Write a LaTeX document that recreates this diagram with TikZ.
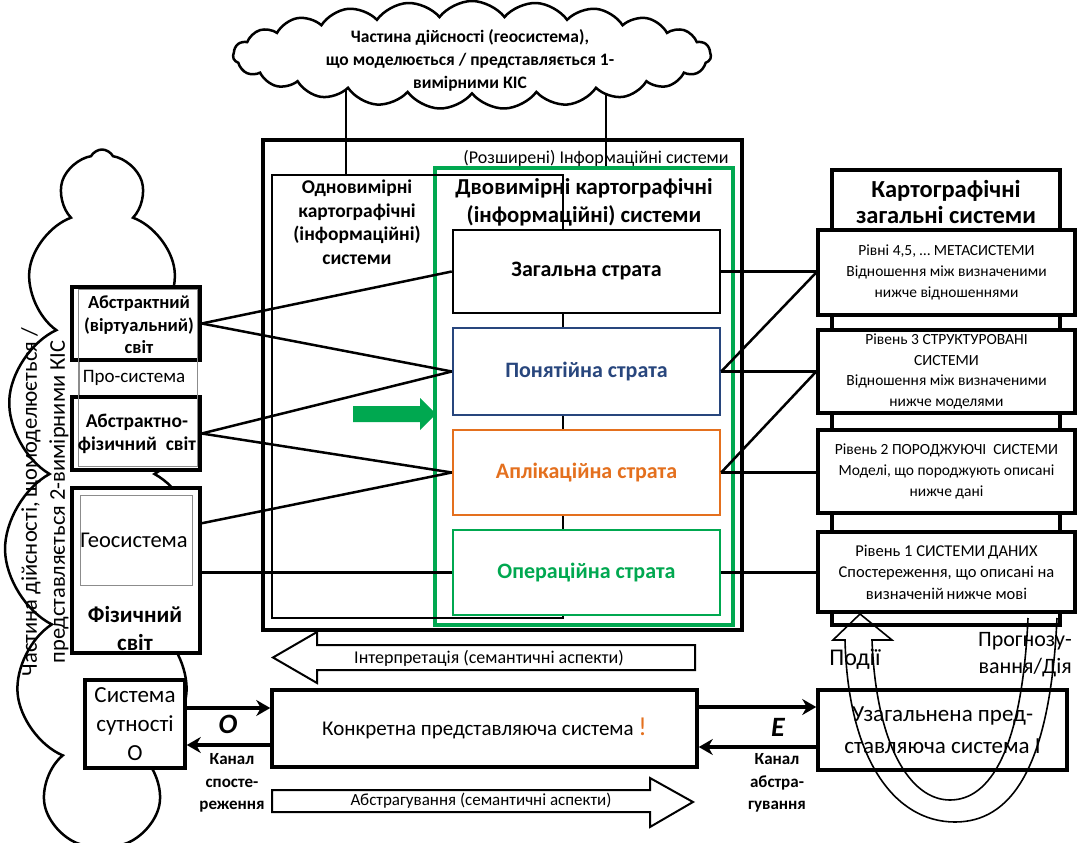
\documentclass[tikz,border=0pt]{standalone}
\usepackage{fontspec}
\setmainfont{Carlito}
\usetikzlibrary{shapes.symbols,arrows.meta,calc}
\definecolor{stgreen}{RGB}{0,168,80}
\definecolor{stblue}{RGB}{40,70,125}
\definecolor{storange}{RGB}{228,112,30}
\newcommand{\fsz}[2]{\fontsize{#1pt}{#2pt}\selectfont}
\pgfdeclarelayer{back}
\pgfsetlayers{back,main}

\begin{document}
\begin{tikzpicture}[x=1pt,y=-1pt,
  heavybox/.style={draw, line width=3.5pt, fill=white, inner sep=0pt, align=center},
  stratum/.style={draw=#1, line width=2.5pt, fill=white, inner sep=0pt, text=#1,
    align=center, font=\bfseries\fsz{22}{26}, minimum width=267pt},
  thinbox/.style={draw, line width=1.6pt, inner sep=0pt},
  greybox/.style={draw=black!45, line width=1pt, inner sep=0pt},
  link/.style={line width=2.5pt},
  lbl/.style={inner sep=0pt, align=center},
  chan/.style={line width=4.5pt, -{Stealth[length=14pt,width=16pt]}},
  hollow/.style={draw, line width=2pt, fill=white},
  puffy/.style={cloud, draw, fill=white, line width=2.5pt, cloud ignores aspect, inner sep=0pt}]
\useasboundingbox (0,0) rectangle (1077,843);

% ---------- clouds ----------
\node[puffy, cloud puffs=15, cloud puff arc=125, minimum width=195pt, minimum height=725pt] (leftcloud) at (102,512) {};
\node[puffy, cloud puffs=23, cloud puff arc=105, minimum width=478pt, minimum height=108pt] (topcloud) at (472,55) {};
\node[lbl, font=\bfseries\fsz{17.5}{23}] (toptxt) at (470,60)
  {Частина дійсності (геосистема),\\що моделюється / представляється 1-\\вимірними КІС};
\node[lbl, rotate=90, font=\fsz{22.5}{28}] (cloudtxt) at (45,502)
  {Частина дійсності, щомоделюється /\\представляється 2-вимірними КІС};

% ---------- central system block ----------
\node[draw, line width=4pt, inner sep=0pt, minimum width=479pt, minimum height=490pt] (outer) at (502.5,385) {};
\node[draw=stgreen, line width=4.5pt, inner sep=0pt, minimum width=298pt, minimum height=457pt] (green) at (584,396.5) {};
\node[thinbox, minimum width=291pt, minimum height=443pt] (oneD) at (417.5,396.5) {};

\begin{pgfonlayer}{back}
  \draw[link] ([xshift=75pt]oneD.north west) -- ([xshift=75pt]oneD.north west |- topcloud.center);
  \draw[link] ([xshift=173pt]green.north west) -- ([xshift=173pt]green.north west |- topcloud.center);
\end{pgfonlayer}

\node[lbl, font=\fsz{18}{20}] (exttitle) at (596,158) {(Розширені) Інформаційні системи};
\node[lbl, font=\bfseries\fsz{19.5}{23.5}] (onetitle) at (357,222)
  {Одновимірні\\картографічні\\(інформаційні)\\системи};
\node[lbl, font=\bfseries\fsz{22.8}{28}] (twotitle) at (584,202)
  {Двовимірні картографічні\\(інформаційні) системи};

\node[stratum=black, minimum height=83pt] (zag) at (586.5,271.5) {Загальна страта};
\node[stratum=stblue, minimum height=87pt] (pon) at (586.5,371.5) {Понятійна страта};
\node[stratum=storange, minimum height=85pt] (apl) at (586.5,472.5) {Аплікаційна страта};
\node[stratum=stgreen, minimum height=85pt] (oper) at (586.5,572.5) {Операційна страта};

% green pointer
\fill[stgreen] (353,406) -- (420,406) -- (420,398) -- (436,414) -- (420,430) -- (420,422) -- (353,422) -- cycle;

% ---------- left: worlds ----------
\node[draw=black!45, line width=1pt, fill=white, inner sep=0pt, minimum width=118pt, minimum height=176pt] (prosys) at (138,378) {};
\node[heavybox, minimum width=128pt, minimum height=73pt] (abs) at (136,323.5) {};
\node[heavybox, minimum width=128pt, minimum height=73pt] (absphys) at (136,433.5) {};
\draw[black!45, line width=1pt] (prosys.north west) rectangle (prosys.south east);
\node[lbl, font=\bfseries\fsz{18.5}{22.5}] (abstxt) at (139,325) {Абстрактний\\(віртуальний)\\світ};
\node[lbl, font=\fsz{19}{20}] (protxt) at (134,378) {Про-система};
\node[lbl, font=\bfseries\fsz{19.5}{23}] (absphystxt) at (137,434) {Абстрактно-\\фізичний\ \ світ};

\node[heavybox, minimum width=128pt, minimum height=165pt] (phys) at (136,570.5) {};
\node[greybox, minimum width=112pt, minimum height=90pt] (geo) at (136,540) {};
\node[lbl, font=\fsz{22.5}{24}] (geotxt) at (134,540) {Геосистема};
\node[lbl, font=\bfseries\fsz{23}{28}] (phystxt) at (135,629) {Фізичний\\світ};

% ---------- right: general systems ----------
\node[heavybox, minimum width=228pt, minimum height=455pt] (kart) at (946,397.5) {};
\node[lbl, font=\bfseries\fsz{24.5}{25.5}] (karttxt) at (946,202) {Картографічні\\загальні системи};
\node[heavybox, minimum width=257pt, minimum height=85pt, font=\fsz{15.5}{21}] (lev45) at (946.5,272.5)
  {Рівні 4,5, … МЕТАСИСТЕМИ\\Відношення між визначеними\\нижче відношеннями};
\node[heavybox, minimum width=257pt, minimum height=83pt, font=\fsz{15.5}{20.5}] (lev3) at (946.5,371.5)
  {Рівень 3 СТРУКТУРОВАНІ\\СИСТЕМИ\\Відношення між визначеними\\нижче моделями};
\node[heavybox, minimum width=257pt, minimum height=83pt, font=\fsz{15.5}{21}] (lev2) at (946.5,471.5)
  {Рівень 2 ПОРОДЖУЮЧІ\ \ СИСТЕМИ\\Моделі, що породжують описані\\нижче дані};
\node[heavybox, minimum width=257pt, minimum height=80pt, font=\fsz{16.5}{21.5}] (lev1) at (946.5,572)
  {Рівень 1 СИСТЕМИ\,ДАНИХ\\Спостереження, що описані на\\визначеній\,нижче мові};

% ---------- connectors between worlds, strata and levels ----------
\draw[link] (abs.east) -- (zag.west);
\draw[link] (abs.east) -- (pon.west);
\draw[link] (absphys.east) -- (pon.west);
\draw[link] (absphys.east) -- (apl.west);
\draw[link] ([yshift=-37pt]phys.north east) -- (apl.west);
\draw[link] (phys.east |- oper.west) -- (oper.west);
\draw[link] (zag.east) -- (zag.east -| lev45.west);
\draw[link] (pon.east) -- (lev45.west);
\draw[link] (pon.east) -- (pon.east -| lev3.west);
\draw[link] (apl.east) -- (lev3.west);
\draw[link] (apl.east) -- (apl.east -| lev2.west);
\draw[link] (oper.east) -- (oper.east -| lev1.west);

% ---------- bottom row ----------
\draw[hollow] (695,645) -- (317,645) -- (317,632) -- (273,657.5) -- (317,683) -- (317,670) -- (695,670) -- cycle;
\node[lbl, font=\fsz{18}{20}] (interp) at (489,658) {Інтерпретація (семантичні аспекти)};

\node[heavybox, minimum width=100pt, minimum height=88pt, font=\fsz{23}{29}] (ent) at (135,724) {Система\\сутності\\O};
\node[heavybox, minimum width=425pt, minimum height=77pt, font=\fsz{21}{24}] (konk) at (484.5,728.5)
  {Конкретна представляюча система \textcolor{storange}{\fsz{26}{26}!}};
\node[heavybox, minimum width=249pt, minimum height=80pt, font=\fsz{23}{32}] (uzag) at (942.5,730)
  {Узагальнена пред-\\ставляюча система I};

\draw[chan] ([yshift=16pt]ent.east) -- ([yshift=16pt]ent.east -| konk.west);
\draw[chan] ([yshift=-21pt]ent.east -| konk.west) -- ([yshift=-21pt]ent.east);
\draw[chan] ([yshift=21.5pt]konk.east) -- ([yshift=21.5pt]konk.east -| uzag.west);
\draw[chan] ([yshift=-18.5pt]konk.east -| uzag.west) -- ([yshift=-18.5pt]konk.east);
\node[lbl, font=\bfseries\itshape\fsz{28}{28}] (olbl) at (228,724) {O};
\node[lbl, font=\bfseries\itshape\fsz{28}{28}] (elbl) at (778,727) {E};
\node[lbl, font=\bfseries\fsz{17}{22.5}] (chanO) at (232,783) {Канал\\спосте-\\реження};
\node[lbl, font=\bfseries\fsz{17}{22.5}] (chanE) at (777,783) {Канал\\абстра-\\гування};

\draw[hollow] (272,790) -- (650,790) -- (650,778) -- (693,802) -- (650,827) -- (650,812) -- (272,812) -- cycle;
\node[lbl, font=\fsz{17}{18}] (abstr) at (481,801) {Абстрагування (семантичні аспекти)};

% ---------- events / prediction loop ----------
\draw[line width=1.6pt, line join=miter]
  (1057,618) .. controls (1050,770) and (1010,822) .. (955,822)
  .. controls (895,822) and (848,760) .. (845,640)
  -- (833,640) -- (860,614) -- (892,640) -- (872,640)
  .. controls (876,745) and (910,800) .. (950,800)
  .. controls (990,800) and (1022,750) .. (1028,618);
\node[lbl, font=\fsz{24}{24}] (events) at (855,659) {Події};
\node[lbl, anchor=east, align=right, font=\fsz{22}{27}] (predict) at (1072,655) {Прогнозу-\\вання/Дія};
\end{tikzpicture}
\end{document}
